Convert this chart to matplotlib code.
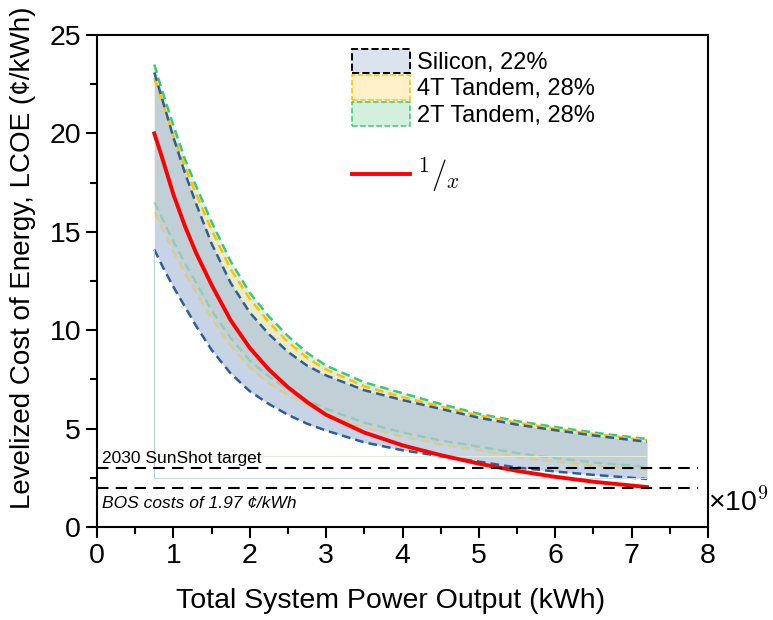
import numpy as np
import matplotlib
matplotlib.use("Agg")
import matplotlib.pyplot as plt
from matplotlib.patches import Patch
from matplotlib.lines import Line2D

plt.rcParams['font.family'] = ['Liberation Sans', 'DejaVu Sans']
plt.rcParams['mathtext.fontset'] = 'cm'

# total system power output (x1e9 kWh) and LCOE bounds (cents/kWh)
power = [0.75, 0.85, 1.0, 1.15, 1.3, 1.5, 1.75, 2.0, 2.25, 2.5,
         2.75, 3.0, 3.5, 4.0, 4.5, 5.0, 5.5, 6.0, 6.5, 7.2]

si_upper = [23.1, 21.8, 19.8, 18.0, 16.4, 14.4, 12.4, 10.9, 9.8, 8.9,
            8.2, 7.7, 6.95, 6.45, 6.0, 5.55, 5.2, 4.92, 4.65, 4.33]
si_lower = [14.1, 13.3, 12.2, 11.2, 10.2, 9.0, 7.8, 6.9, 6.25, 5.7,
            5.25, 4.9, 4.3, 3.9, 3.6, 3.32, 3.02, 2.82, 2.65, 2.44]

t4_upper = [22.8, 21.7, 19.9, 18.3, 16.9, 15.1, 13.1, 11.6, 10.4, 9.4,
            8.6, 8.0, 7.15, 6.6, 6.12, 5.66, 5.3, 5.0, 4.73, 4.4]
t4_lower = [16.0, 15.2, 14.0, 12.9, 11.9, 10.6, 9.2, 8.1, 7.3, 6.7,
            6.2, 5.75, 5.05, 4.6, 4.2, 3.9, 3.55, 3.32, 3.12, 2.9]

t2_upper = [23.5, 22.2, 20.4, 18.7, 17.3, 15.5, 13.5, 11.9, 10.7, 9.7,
            8.85, 8.2, 7.35, 6.8, 6.25, 5.75, 5.38, 5.08, 4.8, 4.47]
t2_lower = [16.5, 15.7, 14.5, 13.4, 12.4, 11.0, 9.6, 8.45, 7.65, 7.0,
            6.45, 6.0, 5.3, 4.8, 4.4, 4.08, 3.75, 3.5, 3.28, 3.05]

inv_x = [20.0, 18.8, 16.9, 15.3, 13.9, 12.3, 10.5, 9.1, 8.0, 7.1,
         6.35, 5.7, 4.8, 4.15, 3.65, 3.22, 2.85, 2.55, 2.3, 2.03]

sunshot = 3.0
bos = 1.97

fig = plt.figure(figsize=(7.73, 6.2), dpi=100)
ax = fig.add_axes([0.1255, 0.15, 0.7905, 0.7935])

blue = '#2e5e9a'
yellow = '#ffc000'
green = '#3cc878'
dash = (3.5, 2)
lw_d = 1.8

# bands: 2T first, then 4T, silicon on top
ax.fill_between(power, t2_lower, t2_upper, color='#c9eed8', alpha=0.7, lw=0)
ax.plot(power, t2_upper, color=green, lw=lw_d, dashes=dash)
ax.plot(power, t2_lower, color=green, lw=lw_d, dashes=dash, alpha=0.35)

ax.fill_between(power, t4_lower, t4_upper, color='#fbe7a8', alpha=0.5, lw=0)
ax.plot(power, t4_upper, color=yellow, lw=lw_d, dashes=dash)
ax.plot(power, t4_lower, color=yellow, lw=lw_d, dashes=dash, alpha=0.35)

ax.fill_between(power, si_lower, si_upper, color='#b4c6de', alpha=0.75, lw=0)
ax.plot(power, si_upper, color=blue, lw=lw_d, dashes=dash)
ax.plot(power, si_lower, color=blue, lw=lw_d, dashes=dash)

# thin edge lines of the fill area
ax.plot([power[0], power[0]], [2.5, si_lower[0]], color='#b8cde0', lw=0.8)
ax.plot([power[0], power[-1]], [2.5, 2.5], color='#cbd8e8', lw=0.8)
ax.plot([power[0], power[-1]], [3.6, 3.6], color='#e3ead6', lw=0.8)

ax.plot(power, inv_x, color='#ff0000', lw=2.8)

ax.plot([0, 7.87], [sunshot, sunshot], color='black', lw=1.5, dashes=(5.5, 3.5))
ax.plot([0, 7.87], [bos, bos], color='black', lw=1.5, dashes=(5.5, 3.5))
ax.text(0.06, 3.25, '2030 SunShot target', fontsize=12.5)
ax.text(0.06, 1.2, 'BOS costs of 1.97 \u00a2/kWh', fontsize=12.5, style='italic', va='center')

ax.set_xlim(0, 8)
ax.set_ylim(0, 25)
ax.set_xticks(np.arange(0, 9, 1))
ax.set_xticks(np.arange(0, 8.5, 0.5), minor=True)
ax.set_yticks(np.arange(0, 26, 5))
ax.set_yticks(np.arange(0, 25.1, 2.5), minor=True)
ax.tick_params(which='major', direction='out', length=8, width=1.5, labelsize=20.5)
ax.tick_params(which='minor', direction='out', length=5, width=1.5)
for s in ax.spines.values():
    s.set_linewidth(1.5)

ax.set_xlabel('Total System Power Output (kWh)', fontsize=20.5)
ax.set_ylabel('Levelized Cost of Energy, LCOE (\u00a2/kWh)', fontsize=20)
ax.xaxis.set_label_coords(0.481, -0.124)
ax.yaxis.set_label_coords(-0.1, 0.547)
ax.text(1.0, 0.02, '\u00d710$^9$', transform=ax.transAxes, fontsize=20.5, ha='left', va='bottom')

handles = [
    Patch(facecolor='#dbe3ee', edgecolor='black', linestyle='--', lw=1.4),
    Patch(facecolor='#fff0c8', edgecolor=yellow, linestyle='--', lw=1.1),
    Patch(facecolor='#d3f0dd', edgecolor=green, linestyle='--', lw=1.1),
    Line2D([], [], color='none'),
    Line2D([], [], color='#ff0000', lw=2.8),
]
labels = ['Silicon, 22%', '4T Tandem, 28%', '2T Tandem, 28%', '', r'$^{1}/_{x}$']
leg = ax.legend(handles, labels, loc='upper left', bbox_to_anchor=(0.41, 0.982),
                frameon=False, fontsize=17, handlelength=2.45, handleheight=1.22,
                labelspacing=0.06, handletextpad=0.3, borderaxespad=0, borderpad=0.2)
leg.get_texts()[4].set_fontsize(22)

fig.savefig('out.png', dpi=100)
